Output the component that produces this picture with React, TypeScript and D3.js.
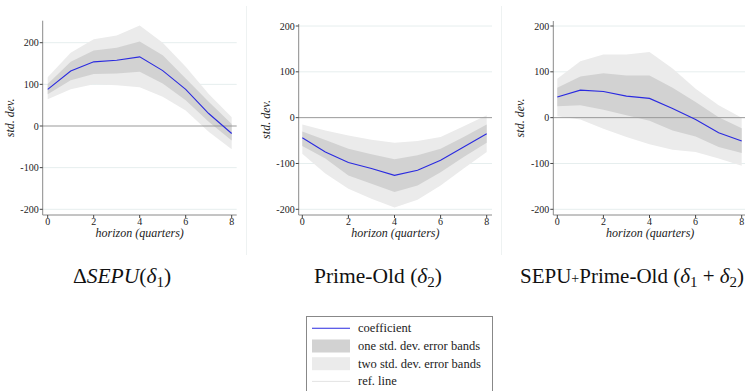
import * as d3 from "d3";

const horizons = [0, 1, 2, 3, 4, 5, 6, 7, 8];
const yTicks = [-200, -100, 0, 100, 200];
const xTicks = [0, 2, 4, 6, 8];

// panel 1: ΔSEPU
const sepuCoef = [88, 132, 154, 158, 166, 133, 88, 30, -18];
const sepuOneHi = [101, 154, 181, 188, 203, 170, 114, 58, 5];
const sepuOneLo = [76, 110, 125, 126, 130, 102, 62, 10, -35];
const sepuTwoHi = [117, 176, 208, 217, 241, 200, 142, 77, 21];
const sepuTwoLo = [64, 88, 100, 98, 93, 70, 37, -14, -56];

// panel 2: Prime-Old
const primeCoef = [-44, -75, -98, -111, -126, -115, -93, -64, -35];
const primeOneHi = [-30, -49, -68, -80, -91, -82, -68, -42, -15];
const primeOneLo = [-62, -89, -126, -144, -162, -148, -119, -86, -55];
const primeTwoHi = [-15, -28, -39, -48, -55, -51, -42, -19, 5];
const primeTwoLo = [-79, -122, -155, -177, -196, -179, -148, -111, -75];

// panel 3: sum
const sumCoef = [45, 60, 57, 47, 42, 20, -4, -33, -51];
const sumOneHi = [65, 90, 97, 92, 92, 65, 34, 1, -23];
const sumOneLo = [25, 27, 17, 5, -7, -28, -41, -64, -77];
const sumTwoHi = [85, 123, 138, 138, 143, 107, 63, 27, 0];
const sumTwoLo = [3, -4, -24, -42, -58, -70, -75, -89, -105];

const legendItems = ["coefficient", "one std. dev. error bands", "two std. dev. error bands", "ref. line"];

const BLUE = "#2a2ae0";
const ONE = "#d2d2d2";
const TWO = "#ebebeb";
const AXIS = "#8a8a8a";
const GRID = "#e6eeee";

type PanelProps = {
  axisX: number;
  x0: number;
  x8: number;
  right: number;
  yTop: number;
  top: number;
  coef: number[];
  oneHi: number[];
  oneLo: number[];
  twoHi: number[];
  twoLo: number[];
};

function Panel(p: PanelProps) {
  const bottom = 215;
  const x = d3.scaleLinear().domain([0, 8]).range([p.x0, p.x8]);
  const y = d3.scaleLinear().domain([-200, 200]).range([209.3, p.yTop]);
  const band = (hi: number[], lo: number[]) =>
    d3
      .area<number>()
      .x((d) => x(d))
      .y0((_d, i) => y(lo[i]))
      .y1((_d, i) => y(hi[i]))(horizons) ?? "";
  const line =
    d3
      .line<number>()
      .x((d) => x(d))
      .y((_d, i) => y(p.coef[i]))(horizons) ?? "";
  const midY = (p.top + bottom) / 2;
  return (
    <g>
      {yTicks
        .filter((t) => t !== 0)
        .map((t) => (
          <line key={"g" + t} x1={p.axisX} x2={p.right} y1={y(t)} y2={y(t)} stroke={GRID} strokeWidth={1} />
        ))}
      <path d={band(p.twoHi, p.twoLo)} fill={TWO} />
      <path d={band(p.oneHi, p.oneLo)} fill={ONE} />
      <line x1={p.axisX} x2={p.right} y1={y(0)} y2={y(0)} stroke="#999" strokeWidth={1} />
      <path d={line} fill="none" stroke={BLUE} strokeWidth={1.1} />
      {/* axes */}
      <line x1={p.axisX} x2={p.axisX} y1={p.top} y2={bottom} stroke={AXIS} strokeWidth={1} />
      <line x1={p.axisX} x2={p.right} y1={bottom} y2={bottom} stroke={AXIS} strokeWidth={1} />
      {yTicks.map((t) => (
        <g key={"y" + t}>
          <line x1={p.axisX - 3} x2={p.axisX} y1={y(t)} y2={y(t)} stroke="#444" />
          <text x={p.axisX - 4} y={y(t)} dy="0.35em" textAnchor="end" fontSize={10} fill="#222">
            {t}
          </text>
        </g>
      ))}
      {xTicks.map((t) => (
        <g key={"x" + t}>
          <line x1={x(t)} x2={x(t)} y1={bottom} y2={bottom + 3} stroke="#444" />
          <text x={x(t)} y={bottom + 10} textAnchor="middle" fontSize={10} fill="#222">
            {t}
          </text>
        </g>
      ))}
      <text x={(p.axisX + p.right) / 2} y={236.5} textAnchor="middle" fontSize={12} fontStyle="italic" fill="#222">
        horizon (quarters)
      </text>
      <text
        transform={`translate(${p.axisX - 29},${midY}) rotate(-90)`}
        textAnchor="middle"
        fontSize={12}
        fontStyle="italic"
        fill="#222"
      >
        std. dev.
      </text>
    </g>
  );
}

export default function App() {
  return (
    <svg width={745} height={391} style={{ position: "absolute", left: 0, top: 0, background: "#fff" }}>
      <style>{`text { font-family: "Liberation Serif", "Tinos", serif; }`}</style>
      <line x1={246.5} x2={246.5} y1={6} y2={255} stroke="#eef2f2" />
      <line x1={501.5} x2={501.5} y1={6} y2={255} stroke="#eef2f2" />
      <Panel
        axisX={42.7}
        x0={47.7}
        x8={231.7}
        right={236.7}
        yTop={42.7}
        top={20.7}
        coef={sepuCoef}
        oneHi={sepuOneHi}
        oneLo={sepuOneLo}
        twoHi={sepuTwoHi}
        twoLo={sepuTwoLo}
      />
      <Panel
        axisX={298.7}
        x0={302.3}
        x8={486.7}
        right={492}
        yTop={26}
        top={24}
        coef={primeCoef}
        oneHi={primeOneHi}
        oneLo={primeOneLo}
        twoHi={primeTwoHi}
        twoLo={primeTwoLo}
      />
      <Panel
        axisX={553.3}
        x0={557.3}
        x8={741.7}
        right={747}
        yTop={26}
        top={21}
        coef={sumCoef}
        oneHi={sumOneHi}
        oneLo={sumOneLo}
        twoHi={sumTwoHi}
        twoLo={sumTwoLo}
      />
      {/* panel titles */}
      <text x={122} y={283} textAnchor="middle" fontSize={21.5} fill="#111">
        Δ<tspan fontStyle="italic">SEPU</tspan>(<tspan fontStyle="italic">δ</tspan>
        <tspan fontSize={15} dy={4}>1</tspan>
        <tspan dy={-4}>)</tspan>
      </text>
      <text x={378} y={283} textAnchor="middle" fontSize={21.5} fill="#111">
        Prime-Old (<tspan fontStyle="italic">δ</tspan>
        <tspan fontSize={15} dy={4}>2</tspan>
        <tspan dy={-4}>)</tspan>
      </text>
      <text x={632} y={283} textAnchor="middle" fontSize={21} fill="#111">
        SEPU<tspan fontSize={14}>+</tspan>Prime-Old (<tspan fontStyle="italic">δ</tspan>
        <tspan fontSize={15} dy={4}>1</tspan>
        <tspan dy={-4}> + </tspan>
        <tspan fontStyle="italic">δ</tspan>
        <tspan fontSize={15} dy={4}>2</tspan>
        <tspan dy={-4}>)</tspan>
      </text>
      {/* legend */}
      <rect x={306.5} y={316.5} width={186} height={90} fill="#fff" stroke="#888" />
      {legendItems.map((label, i) => {
        const cy = 328.3 + i * 17.7;
        return (
          <g key={label}>
            {i === 0 && <line x1={312} x2={350} y1={cy} y2={cy} stroke={BLUE} strokeWidth={1.1} />}
            {i === 1 && <rect x={312} y={cy - 6.5} width={38} height={13} fill={ONE} />}
            {i === 2 && <rect x={312} y={cy - 6.5} width={38} height={13} fill={TWO} />}
            {i === 3 && <line x1={312} x2={350} y1={cy} y2={cy} stroke="#e4e4e4" strokeWidth={1} />}
            <text x={358} y={cy} dy="0.32em" fontSize={12.5} fill="#222">
              {label}
            </text>
          </g>
        );
      })}
    </svg>
  );
}
